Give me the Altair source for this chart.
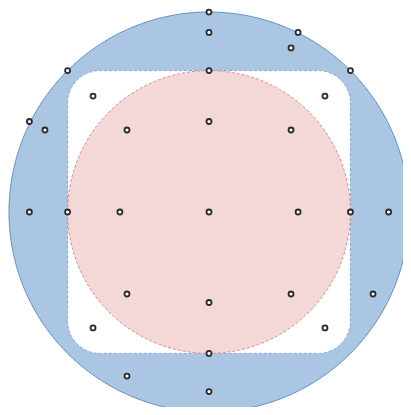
import altair as alt
import numpy as np
import pandas as pd

# Geometry parameters (data units)
outer_radius = np.sqrt(2)
square_half = 1.0
corner_radius = 0.23
inner_radius = 1.0

# Points
px = [0, 0, 0.63, 0.58, -1, 0, 1, -0.82, 0.82, -1.27, -1.16, -0.58, 0, 0.58,
      -1.27, -1, -0.63, 0, 0.63, 1, 1.27, 1.414,
      -0.58, 0, 0.58, 1.16, -0.82, 0.82, 0, -0.58, 0]
py = [1.414, 1.27, 1.27, 1.16, 1, 1, 1, 0.82, 0.82, 0.64, 0.58, 0.58, 0.64, 0.58,
      0, 0, 0, 0, 0, 0, 0, 0,
      -0.58, -0.64, -0.58, -0.58, -0.82, -0.82, -1, -1.16, -1.27]

t = np.linspace(0, np.pi, 361)
outer = pd.DataFrame({"x": outer_radius * np.cos(t),
                      "y": outer_radius * np.sin(t),
                      "y2": -outer_radius * np.sin(t)})
inner = pd.DataFrame({"x": inner_radius * np.cos(t),
                      "y": inner_radius * np.sin(t),
                      "y2": -inner_radius * np.sin(t)})

# rounded square top boundary
a = square_half - corner_radius
ang = np.linspace(0, np.pi / 2, 91)
right_x = a + corner_radius * np.cos(ang)
right_y = a + corner_radius * np.sin(ang)
sx = np.concatenate([-right_x, right_x[::-1]])
sy = np.concatenate([right_y, right_y[::-1]])
order = np.argsort(sx, kind="stable")
sq = pd.DataFrame({"x": sx[order], "y": sy[order], "y2": -sy[order]})

s2 = np.sqrt(2)
unit = 200 / s2
W, H = 394, 395
xdom = [-s2, -s2 + W / unit]
ydom = [s2 - H / unit, s2]
X = alt.X("x:Q", scale=alt.Scale(domain=xdom, nice=False, zero=False), axis=None)
Y = alt.Y("y:Q", scale=alt.Scale(domain=ydom, nice=False, zero=False), axis=None)

outer_l = alt.Chart(outer).mark_area(fill="#aac6e2", stroke="#5b8fcb", strokeWidth=1).encode(
    x=X, y=Y, y2="y2:Q")
sq_l = alt.Chart(sq).mark_area(fill="#ffffff", stroke="#7ea8d8", strokeWidth=1,
                               strokeDash=[3, 2]).encode(x=X, y=Y, y2="y2:Q")
inner_l = alt.Chart(inner).mark_area(fill="#f4d8d8", stroke="#e08585", strokeWidth=1,
                                     strokeDash=[3, 2]).encode(x=X, y=Y, y2="y2:Q")
pts = alt.Chart(pd.DataFrame({"x": px, "y": py})).mark_point(
    shape="circle", size=25, filled=False, fill="white", fillOpacity=1,
    stroke="#2b2b2b", strokeWidth=1.8, opacity=1).encode(x=X, y=Y)

chart = alt.layer(outer_l, sq_l, inner_l, pts).properties(
    width=W, height=H, autosize=alt.AutoSizeParams(type="none"),
    padding={"left": 1, "top": 4, "right": 0, "bottom": 0}
).configure_view(stroke=None)

chart.save("out.html", embed_options={"renderer": "svg", "actions": False})
